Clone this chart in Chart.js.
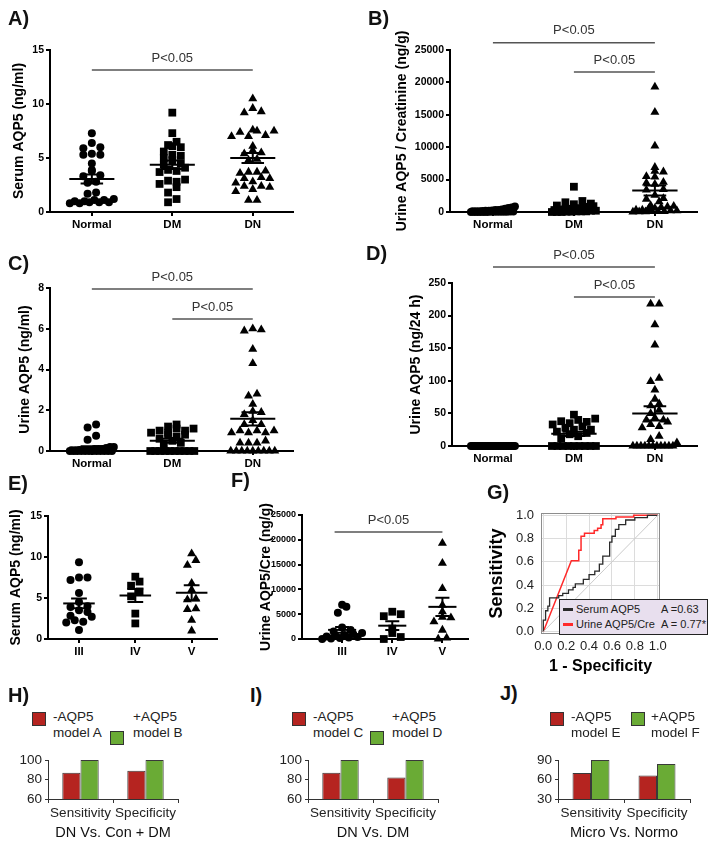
<!DOCTYPE html>
<html>
<head>
<meta charset="utf-8">
<script src="https://cdn.jsdelivr.net/npm/chart.js@4.4.1/dist/chart.umd.min.js"></script>
<style>
  body { margin: 0; width: 718px; height: 847px; position: relative; overflow: hidden; background: #fff;
         font-family: "Liberation Sans", Arial, Helvetica, sans-serif; }
  canvas { position: absolute; }
  .tag { position: absolute; font-weight: bold; font-size: 20px; line-height: 22px; color: #111; }
  .lg { position: absolute; font-size: 13.5px; line-height: 16px; color: #222; white-space: nowrap; }
  .sq { position: absolute; width: 14px; height: 14px; box-sizing: border-box; border: 1px solid #333; }
  #roc-key { position: absolute; left: 559px; top: 599px; width: 149px; height: 36px; box-sizing: border-box;
             background: #e8dfee; border: 1.5px solid #222; font-size: 11px; color: #222; }
  #roc-key div { position: absolute; white-space: nowrap; line-height: 13px; }
  #roc-key .sw { height: 3px; width: 10px; }
</style>
</head>
<body>
<script>
// ---- data ----
const groups = ["Normal", "DM", "DN"];
const stages = ["III", "IV", "V"];

// A) serum AQP5 (ng/ml)
const serumNormal = [7.3, 6.4, 6.0, 5.9, 5.4, 5.3, 5.3, 4.5, 3.9, 3.8, 3.4, 3.3, 2.8, 2.7, 1.8, 1.7, 1.2, 1.1, 1.1, 1.0, 1.0, 0.9, 0.9, 0.9, 0.8, 0.8];
const serumDM = [9.2, 7.3, 6.5, 6.2, 6.1, 6.0, 5.6, 5.3, 5.2, 5.0, 4.8, 4.5, 4.4, 4.1, 3.9, 3.8, 3.7, 3.0, 2.9, 2.8, 2.6, 2.3, 1.8, 1.2, 0.9];
const serumDN = [10.5, 9.6, 9.3, 9.2, 7.6, 7.5, 7.5, 7.4, 7.1, 7.0, 7.0, 6.1, 5.7, 5.5, 5.4, 4.9, 4.8, 3.8, 3.7, 3.7, 3.6, 3.2, 3.1, 3.1, 2.8, 2.7, 2.4, 2.4, 2.3, 2.1, 1.9, 1.1, 1.1];

// B) urine AQP5 / creatinine (ng/g)
const ratioNormal = [850, 700, 600, 500, 400, 300, 300, 250, 200, 200, 150, 100, 100, 100, 80, 60, 50, 50, 40, 30, 20, 20, 10, 10, 0, 0, 0, 0];
const ratioDM = [3900, 1700, 1500, 1300, 1200, 1000, 900, 800, 700, 600, 500, 500, 400, 300, 300, 200, 200, 100, 100, 100, 50, 50, 0, 0, 0];
const ratioDN = [19300, 15400, 10200, 6900, 6300, 6200, 5500, 5400, 4600, 4500, 4300, 3500, 3400, 2600, 2100, 2000, 1600, 1000, 900, 800, 700, 600, 500, 300, 300, 200, 200, 100, 100, 100, 50, 50, 0];

// C) urine AQP5 (ng/ml)
const urineNormal = [1.3, 1.15, 0.75, 0.55, 0.2, 0.2, 0.15, 0.1, 0.1, 0.1, 0.05, 0.05, 0.05, 0.05, 0.02, 0.02, 0, 0, 0, 0, 0, 0, 0, 0, 0, 0, 0, 0];
const urineDM = [1.3, 1.2, 1.1, 1.1, 1.0, 1.0, 0.9, 0.9, 0.8, 0.8, 0.7, 0.6, 0.5, 0.4, 0.3, 0, 0, 0, 0, 0, 0, 0, 0, 0, 0];
const urineDN = [6.0, 5.95, 5.9, 5.0, 4.3, 2.8, 2.7, 2.3, 1.95, 1.9, 1.8, 1.5, 1.3, 1.3, 1.0, 1.0, 1.0, 0.9, 0.9, 0.9, 0.5, 0.4, 0.4, 0.4, 0, 0, 0, 0, 0, 0, 0, 0, 0];

// D) urine AQP5 (ng/24 h)
const dailyNormal = [0, 0, 0, 0, 0, 0, 0, 0, 0, 0, 0, 0, 0, 0, 0, 0, 0, 0, 0, 0, 0, 0, 0, 0, 0, 0, 0, 0];
const dailyDM = [48, 42, 40, 38, 37, 35, 33, 30, 28, 25, 25, 22, 20, 18, 15, 12, 0, 0, 0, 0, 0, 0, 0, 0, 0];
const dailyDN = [218, 218, 186, 155, 104, 99, 86, 72, 65, 62, 55, 50, 43, 40, 40, 37, 33, 30, 28, 15, 10, 5, 0, 0, 0, 0, 0, 0, 0, 0, 0, 0, 0];

// E) serum AQP5 by stage
const stageSerumIII = [9.35, 7.5, 7.5, 7.2, 5.6, 4.5, 4.0, 3.9, 3.5, 3.3, 2.85, 2.7, 2.3, 2.1, 2.0, 1.1];
const stageSerumIV = [7.6, 7.0, 6.5, 5.8, 5.2, 3.1, 1.9];
const stageSerumV = [10.4, 9.6, 9.0, 6.8, 6.0, 4.9, 4.8, 3.7, 3.6, 2.3, 1.0];

// F) urine AQP5/Cre by stage
const stageRatioIII = [6900, 6500, 5300, 2300, 1800, 1500, 1200, 1000, 800, 600, 500, 400, 300, 200, 100, 0];
const stageRatioIV = [5500, 5000, 4600, 2100, 1200, 400, 0];
const stageRatioV = [19300, 15300, 10200, 6800, 5500, 4400, 4300, 3500, 1800, 200, 0];

// G) ROC curves
const rocSerumFpr = [0, 0, 0.02, 0.02, 0.04, 0.04, 0.055, 0.055, 0.135, 0.135, 0.17, 0.17, 0.22, 0.22, 0.26, 0.26, 0.28, 0.28, 0.35, 0.35, 0.40, 0.40, 0.45, 0.45, 0.49, 0.49, 0.52, 0.52, 0.58, 0.58, 0.60, 0.60, 0.63, 0.63, 0.66, 0.66, 0.72, 0.72, 0.80, 0.80, 0.91, 0.91, 1.0];
const rocSerumTpr = [0, 0.1, 0.1, 0.18, 0.18, 0.22, 0.22, 0.29, 0.29, 0.31, 0.31, 0.33, 0.33, 0.36, 0.36, 0.38, 0.38, 0.41, 0.41, 0.45, 0.45, 0.49, 0.49, 0.52, 0.52, 0.58, 0.58, 0.65, 0.65, 0.77, 0.77, 0.82, 0.82, 0.88, 0.88, 0.92, 0.92, 0.96, 0.96, 0.98, 0.98, 1.0, 1.0];
const rocUrineFpr = [0, 0.245, 0.31, 0.31, 0.33, 0.33, 0.36, 0.36, 0.445, 0.445, 0.475, 0.475, 0.505, 0.505, 0.52, 0.52, 0.635, 0.635, 0.79, 0.79, 1.0];
const rocUrineTpr = [0, 0.61, 0.61, 0.70, 0.70, 0.82, 0.82, 0.845, 0.845, 0.87, 0.87, 0.89, 0.89, 0.92, 0.92, 0.97, 0.97, 0.985, 0.985, 1.0, 1.0];
const rocNames = ["Serum AQP5", "Urine AQP5/Cre"];
const rocAuc = ["A =0.63", "A = 0.77*"];
const rocTicks = [0, 0.2, 0.4, 0.6, 0.8, 1.0];

// H-J) model performance (%)
const modelCats = ["Sensitivity", "Specificity"];
const aqp5Keys = ["-AQP5", "+AQP5"];
const hModels = ["model A", "model B"];
const hWithout = [87, 89];
const hWith = [100, 100];
const iModels = ["model C", "model D"];
const iWithout = [87, 82];
const iWith = [100, 100];
const jModels = ["model E", "model F"];
const jWithout = [70, 66];
const jWith = [90, 84];

// ---- drawing ----
Chart.defaults.font.family = '"Liberation Sans", Arial, Helvetica, sans-serif';
Chart.defaults.color = "#000";
Chart.defaults.animation = false;
Chart.defaults.responsive = false;
Chart.defaults.devicePixelRatio = 1;
Chart.defaults.plugins.legend.display = false;
Chart.defaults.plugins.tooltip.enabled = false;

const RED = "#b52420";
const GREEN = "#6aab35";
const SHAPES = ["circle", "rect", "triangle"];
const RADII = [4, 5.5, 5.2];

function addCanvas(box) {
  const c = document.createElement("canvas");
  c.width = box.w; c.height = box.h;
  c.style.left = box.x + "px"; c.style.top = box.y + "px";
  document.body.appendChild(c);
  return c;
}

function addTag(text, x, y) {
  const d = document.createElement("div");
  d.className = "tag"; d.textContent = text;
  d.style.left = x + "px"; d.style.top = y + "px";
  document.body.appendChild(d);
}

function meanSem(a) {
  const m = a.reduce((s, v) => s + v, 0) / a.length;
  const sd = Math.sqrt(a.reduce((s, v) => s + (v - m) ** 2, 0) / (a.length - 1));
  return [m, sd / Math.sqrt(a.length)];
}

// Prism-like scatter: points of about the same height share a row, squeezed to a max width
function swarm(values, center, pxX, pxY, halfMax) {
  const sorted = values.slice().sort((a, b) => a - b);
  const rows = [];
  sorted.forEach(v => {
    const row = rows[rows.length - 1];
    if (row && (v - row[0]) * pxY < 6) row.push(v); else rows.push([v]);
  });
  const pts = [];
  rows.forEach(row => {
    const n = row.length;
    const gap = n > 1 ? Math.min(8.5, 2 * halfMax / (n - 1)) : 0;
    const slots = [];
    for (let k = 0; k < n; k += 2) slots.push(k);
    for (let k = 1; k < n; k += 2) slots.push(k);
    row.forEach((v, j) => pts.push({ x: center + (slots[j] - (n - 1) / 2) * gap / pxX, y: v }));
  });
  return pts;
}

const bracketPlugin = {
  id: "brackets",
  afterDraw(chart, args, opts) {
    const { ctx, scales: { x, y } } = chart;
    (opts.items || []).forEach(b => {
      const py = y.getPixelForValue(b.y);
      const x1 = x.getPixelForValue(b.from), x2 = x.getPixelForValue(b.to);
      ctx.save();
      ctx.strokeStyle = "#555"; ctx.lineWidth = 1.5;
      ctx.beginPath(); ctx.moveTo(x1, py); ctx.lineTo(x2, py); ctx.stroke();
      ctx.fillStyle = "#333"; ctx.font = '13px "Liberation Sans", Arial, sans-serif';
      ctx.textAlign = "center"; ctx.textBaseline = "middle";
      ctx.fillText(b.text, (x1 + x2) / 2, py - 12);
      ctx.restore();
    });
  }
};

const framePlugin = {
  id: "frame",
  beforeDatasetsDraw(chart) {
    const { ctx, chartArea: a } = chart;
    ctx.save(); ctx.strokeStyle = "#8d8d8d"; ctx.lineWidth = 1;
    ctx.strokeRect(a.left + 0.5, a.top + 0.5, a.right - a.left - 1, a.bottom - a.top - 1);
    ctx.restore();
  }
};

function dotPanel(p) {
  const pxX = (p.plot.r - p.plot.l) / (p.xMax - p.xMin);
  const pxY = (p.plot.b - p.plot.t) / p.yMax;
  const line = { showLine: true, pointRadius: 0, borderColor: "#000", borderWidth: 2, clip: false, spanGaps: false };
  const datasets = [];
  p.series.forEach((vals, i) => {
    const c = i + 1;
    datasets.push({ data: swarm(vals, c, pxX, pxY, p.spread), pointStyle: SHAPES[i], pointRadius: RADII[i],
                    backgroundColor: "#000", borderWidth: 0, clip: false });
    const [m, s] = meanSem(vals);
    datasets.push({ ...line, data: [{ x: c - 0.28, y: m }, { x: c + 0.28, y: m }] });
    datasets.push({ ...line, data: [
      { x: c - 0.14, y: m + s }, { x: c + 0.14, y: m + s }, { x: c, y: null },
      { x: c, y: m + s }, { x: c, y: Math.max(0, m - s) }, { x: c, y: null },
      { x: c - 0.14, y: Math.max(0, m - s) }, { x: c + 0.14, y: Math.max(0, m - s) }] });
  });
  new Chart(addCanvas(p.box), {
    type: "scatter",
    data: { datasets },
    options: {
      layout: { padding: { top: p.plot.t - p.box.y, right: p.box.x + p.box.w - p.plot.r, left: 0, bottom: 0 } },
      scales: {
        x: {
          type: "linear", min: p.xMin, max: p.xMax,
          afterBuildTicks: s => { s.ticks = p.labels.map((_, i) => ({ value: i + 1 })); },
          afterFit: s => { s.height = p.box.y + p.box.h - p.plot.b; },
          ticks: { callback: (v, i) => p.labels[i], font: { size: 11.5, weight: "bold" }, color: "#000",
                   padding: 2, maxRotation: 0, autoSkip: false },
          grid: { drawOnChartArea: false, color: "#000", lineWidth: 2, tickLength: 4 },
          border: { color: "#000", width: 2 }
        },
        y: {
          min: 0, max: p.yMax,
          afterFit: s => { s.width = p.plot.l - p.box.x; },
          ticks: { stepSize: p.yStep, callback: v => String(v), font: { size: p.tickSize || 10.5, weight: "bold" },
                   color: "#000", padding: 2 },
          grid: { drawOnChartArea: false, color: "#000", lineWidth: 2, tickLength: 4 },
          border: { color: "#000", width: 2 },
          title: { display: true, text: p.yTitle, font: { size: 14, weight: "bold" }, color: "#000",
                   padding: { top: p.titlePad, bottom: 0 } }
        }
      },
      plugins: { brackets: { items: p.brackets } }
    },
    plugins: [bracketPlugin]
  });
}

function barPanel(p) {
  const common = { borderColor: "#3a3a3a", borderWidth: 1, borderSkipped: false, categoryPercentage: 0.56, barPercentage: 1 };
  new Chart(addCanvas(p.box), {
    type: "bar",
    data: {
      labels: modelCats,
      datasets: [
        { ...common, label: aqp5Keys[0] + " " + p.models[0], data: p.without, backgroundColor: RED },
        { ...common, label: aqp5Keys[1] + " " + p.models[1], data: p.withAqp5, backgroundColor: GREEN }
      ]
    },
    options: {
      layout: { padding: { top: p.plot.t - p.box.y, right: p.box.x + p.box.w - p.plot.r, left: 0, bottom: 0 } },
      scales: {
        x: {
          afterFit: s => { s.height = p.box.y + p.box.h - p.plot.b; },
          ticks: { font: { size: 13.5 }, color: "#222", padding: 2, maxRotation: 0, autoSkip: false },
          grid: { drawOnChartArea: false, color: "#333", lineWidth: 1, tickLength: 4, offset: true },
          border: { color: "#333", width: 1 },
          title: { display: true, text: p.title, font: { size: 14.5 }, color: "#111", padding: { top: 0, bottom: 5 } }
        },
        y: {
          min: p.yMin, max: p.yMax,
          afterFit: s => { s.width = p.plot.l - p.box.x; },
          ticks: { stepSize: p.yStep, font: { size: 13.5 }, color: "#222", padding: 3 },
          grid: { drawOnChartArea: false, color: "#333", lineWidth: 1, tickLength: 3 },
          border: { color: "#333", width: 1 }
        }
      }
    }
  });
  // two-line legend keys
  p.keys.forEach((k, i) => {
    const sq = document.createElement("div");
    sq.className = "sq"; sq.style.background = i === 0 ? RED : GREEN;
    sq.style.left = k.sq[0] + "px"; sq.style.top = k.sq[1] + "px";
    document.body.appendChild(sq);
    const t = document.createElement("div");
    t.className = "lg"; t.innerHTML = aqp5Keys[i] + "<br>" + p.models[i];
    t.style.left = k.tx + "px"; t.style.top = "709px";
    document.body.appendChild(t);
  });
}

// A
dotPanel({ box: { x: 0, y: 20, w: 300, h: 220 }, plot: { l: 50, t: 50, r: 293, b: 212 },
  xMin: 0.48, xMax: 3.5, yMax: 15, yStep: 5, labels: groups, series: [serumNormal, serumDM, serumDN],
  yTitle: "Serum AQP5 (ng/ml)", titlePad: 10.6, spread: 22,
  brackets: [{ from: 1, to: 3, y: 13.15, text: "P<0.05" }] });
// B
dotPanel({ box: { x: 360, y: 15, w: 358, h: 225 }, plot: { l: 450, t: 50, r: 697, b: 212 },
  xMin: 0.47, xMax: 3.52, yMax: 25000, yStep: 5000, labels: groups, series: [ratioNormal, ratioDM, ratioDN],
  yTitle: "Urine AQP5 / Creatinine (ng/g)", titlePad: 33.6, spread: 22,
  brackets: [{ from: 1, to: 3, y: 26100, text: "P<0.05" }, { from: 2, to: 3, y: 21600, text: "P<0.05" }] });
// C
dotPanel({ box: { x: 0, y: 255, w: 300, h: 218 }, plot: { l: 50, t: 288, r: 293, b: 451 },
  xMin: 0.48, xMax: 3.5, yMax: 8, yStep: 2, labels: groups, series: [urineNormal, urineDM, urineDN],
  yTitle: "Urine AQP5 (ng/ml)", titlePad: 16.6, spread: 22,
  brackets: [{ from: 1, to: 3, y: 7.95, text: "P<0.05" }, { from: 2, to: 3, y: 6.48, text: "P<0.05" }] });
// D
dotPanel({ box: { x: 360, y: 245, w: 358, h: 230 }, plot: { l: 452, t: 283, r: 697, b: 446 },
  xMin: 0.494, xMax: 3.52, yMax: 250, yStep: 50, labels: groups, series: [dailyNormal, dailyDM, dailyDN],
  yTitle: "Urine AQP5 (ng/24 h)", titlePad: 47.6, spread: 22,
  brackets: [{ from: 1, to: 3, y: 274.5, text: "P<0.05" }, { from: 2, to: 3, y: 228.5, text: "P<0.05" }] });
// E
dotPanel({ box: { x: 0, y: 495, w: 225, h: 165 }, plot: { l: 48, t: 516, r: 217, b: 639 },
  xMin: 0.45, xMax: 3.45, yMax: 15, yStep: 5, labels: stages, series: [stageSerumIII, stageSerumIV, stageSerumV],
  yTitle: "Serum AQP5 (ng/ml)", titlePad: 7.6, spread: 20, brackets: [] });
// F
dotPanel({ box: { x: 228, y: 495, w: 245, h: 165 }, plot: { l: 302, t: 515, r: 468, b: 639 },
  xMin: 0.2, xMax: 3.5, yMax: 25000, yStep: 5000, labels: stages, series: [stageRatioIII, stageRatioIV, stageRatioV],
  yTitle: "Urine AQP5/Cre (ng/g)", titlePad: 29.6, spread: 20, tickSize: 9,
  brackets: [{ from: 0.85, to: 3, y: 21570, text: "P<0.05" }] });

// G
const zip = (xs, ys) => xs.map((x, i) => ({ x, y: ys[i] }));
new Chart(addCanvas({ x: 480, y: 495, w: 238, h: 185 }), {
  type: "scatter",
  data: {
    datasets: [
      { data: [{ x: 0, y: 0 }, { x: 1, y: 1 }], showLine: true, borderColor: "#cacaca", borderWidth: 1, pointRadius: 0 },
      { label: rocNames[0], data: zip(rocSerumFpr, rocSerumTpr), showLine: true, borderColor: "#2a2a2a", borderWidth: 1.3, pointRadius: 0 },
      { label: rocNames[1], data: zip(rocUrineFpr, rocUrineTpr), showLine: true, borderColor: "#ff2a2a", borderWidth: 1.5, pointRadius: 0 }
    ]
  },
  options: {
    layout: { padding: { top: 18, right: 58, left: 0, bottom: 0 } },
    scales: {
      x: {
        min: -0.02, max: 1.02,
        afterBuildTicks: s => { s.ticks = rocTicks.map(v => ({ value: v })); },
        afterFit: s => { s.height = 46; },
        ticks: { callback: v => Number(v).toFixed(1), font: { size: 13 }, color: "#222", padding: 5, maxRotation: 0, autoSkip: false },
        grid: { color: "#dcdcdc", drawTicks: false },
        border: { display: false },
        title: { display: true, text: "1 - Specificity", font: { size: 16, weight: "bold" }, color: "#000", padding: { top: 0, bottom: 4 } }
      },
      y: {
        min: -0.02, max: 1.02,
        afterBuildTicks: s => { s.ticks = rocTicks.map(v => ({ value: v })); },
        afterFit: s => { s.width = 61; },
        ticks: { callback: v => Number(v).toFixed(1), font: { size: 13 }, color: "#222", padding: 7 },
        grid: { color: "#dcdcdc", drawTicks: false },
        border: { display: false },
        title: { display: true, text: "Sensitivity", font: { size: 18, weight: "bold" }, color: "#000", padding: { top: 6, bottom: 0 } }
      }
    }
  },
  plugins: [framePlugin]
});
(function rocKey() {
  const box = document.createElement("div");
  box.id = "roc-key";
  const colors = ["#2a2a2a", "#ff2a2a"];
  rocNames.forEach((name, i) => {
    const top = i === 0 ? 3 : 18;
    box.insertAdjacentHTML("beforeend",
      `<div class="sw" style="left:3px;top:${top + 5}px;background:${colors[i]}"></div>` +
      `<div style="left:16px;top:${top}px">${name}</div>` +
      `<div style="left:101px;top:${top}px">${rocAuc[i]}</div>`);
  });
  document.body.appendChild(box);
})();

// H, I, J
barPanel({ box: { x: 0, y: 745, w: 240, h: 102 }, plot: { l: 48, t: 760, r: 178, b: 799 },
  yMin: 60, yMax: 100, yStep: 20, without: hWithout, withAqp5: hWith, models: hModels, title: "DN Vs. Con + DM",
  keys: [{ sq: [32, 712], tx: 53 }, { sq: [110, 731], tx: 133 }] });
barPanel({ box: { x: 240, y: 745, w: 240, h: 102 }, plot: { l: 308, t: 760, r: 438, b: 799 },
  yMin: 60, yMax: 100, yStep: 20, without: iWithout, withAqp5: iWith, models: iModels, title: "DN Vs. DM",
  keys: [{ sq: [292, 712], tx: 313 }, { sq: [370, 731], tx: 392 }] });
barPanel({ box: { x: 478, y: 745, w: 240, h: 102 }, plot: { l: 558, t: 760, r: 690, b: 799 },
  yMin: 30, yMax: 90, yStep: 30, without: jWithout, withAqp5: jWith, models: jModels, title: "Micro Vs. Normo",
  keys: [{ sq: [550, 712], tx: 571 }, { sq: [631, 712], tx: 651 }] });

// panel letters
addTag("A)", 8, 7); addTag("B)", 368, 7);
addTag("C)", 8, 252); addTag("D)", 366, 242);
addTag("E)", 8, 472); addTag("F)", 231, 469); addTag("G)", 487, 481);
addTag("H)", 8, 684); addTag("I)", 250, 684); addTag("J)", 500, 682);
</script>
</body>
</html>
